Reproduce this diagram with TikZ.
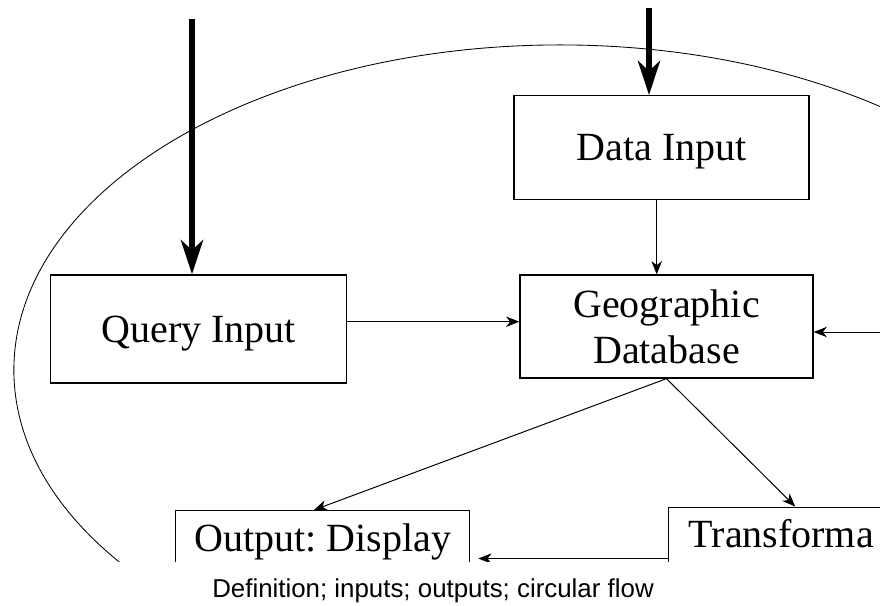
\documentclass[tikz,border=0pt]{standalone}
\usepackage{fontspec}
\setmainfont{Liberation Serif}
\newfontfamily\captionfont{Liberation Sans}
\usetikzlibrary{arrows.meta, positioning}
\frenchspacing

\begin{document}
\begin{tikzpicture}[x=0.025cm, y=-0.025cm,
        box/.style={rectangle, draw, line width=0.9pt, inner sep=0pt, align=center, font=\fontsize{28.45}{32.7}\selectfont},
        onebox/.style={box, text height=0.66cm, text depth=0pt},
        openbox/.style={rectangle, draw, line width=0.9pt, inner ysep=0.35cm, anchor=north west, font=\fontsize{28.45}{32.7}\selectfont, text height=0.66cm, text depth=2cm},
        flow/.style={line width=0.7pt, -{Stealth[length=0.33cm, width=0.26cm, inset=0.1cm]}},
        bigflow/.style={line width=0.15cm, -{Stealth[length=0.85cm, width=0.55cm, inset=0.25cm]}}]
        \useasboundingbox (0,0) rectangle (880,605);
        \begin{scope}
        \clip (0,0) rectangle (880,561.5);
        \draw[line width=0.6pt] (560,370) ellipse [x radius=13.65cm, y radius=8.125cm];

        \node[box, minimum width=7.325cm, minimum height=2.575cm] (gdb) at (666.5,326.5) {Geographic\\Database};
        \node[onebox, minimum width=7.375cm, minimum height=2.6cm] (di) [above = 1.85cm of gdb, xshift=-0.125cm] {Data Input};
        \node[onebox, minimum width=7.4cm, minimum height=2.7cm] (qi) [left = 4.3cm of gdb, yshift=-0.06cm] {Query Input};
        \node[openbox, minimum width=7.35cm] (out) at (175,510) {Output: Display};
        \node[openbox, inner xsep=0.5cm] (trans) at (668,506.5) {Transforma};

        \coordinate (qsrc) at (192,19);
        \coordinate (dsrc) at (649,8);
        \coordinate (back) at (900,332);
        \coordinate (loop) at ([yshift=-1.3cm]trans.north west);

        \path[bigflow] (qsrc) edge (qsrc |- qi.north);
        \path[bigflow] (dsrc) edge (dsrc |- di.north);
        \path[flow] ([xshift=-0.12cm]di.south) edge ([xshift=-0.12cm]di.south |- gdb.north);
        \path[flow] ([yshift=0.18cm]qi.east) edge ([yshift=0.18cm]qi.east -| gdb.west);
        \path[flow] (back) edge (back -| gdb.east);
        \path[flow] (gdb.south) edge ([xshift=-0.22cm]out.north);
        \path[flow] (gdb.south) edge ([xshift=3.18cm]trans.north west);
        \path[flow, shorten >=0.2cm] (loop) edge (loop -| out.east);
        \end{scope}

        \node[font=\captionfont\fontsize{18.4}{21}\selectfont, anchor=base] (caption) at (433,597) {Definition; inputs; outputs; circular flow};
    \end{tikzpicture}
\end{document}
